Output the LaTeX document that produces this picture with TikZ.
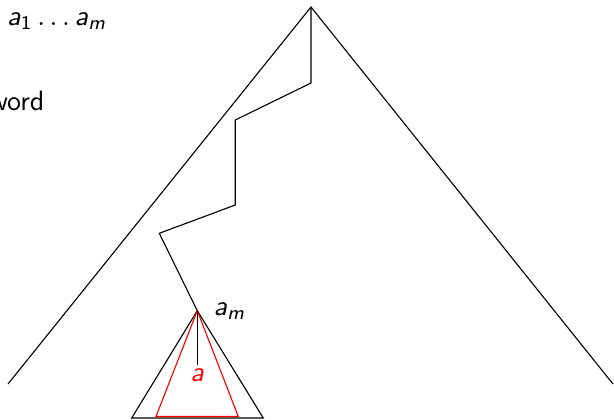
\documentclass[tikz,border=0pt]{standalone}
\usepackage{amsmath}
\renewcommand{\familydefault}{\sfdefault}
\newcommand{\mv}[1]{\textsf{\textit{#1}}}
\begin{document}
\begin{tikzpicture}[x=0.357pt,y=-0.357pt,
  lbl/.style={inner sep=0pt,font=\sffamily}]
\useasboundingbox (0,0) rectangle (614,420);
% big triangle
\coordinate (top) at (311,7);
\coordinate (bl) at (8,384);
\coordinate (br) at (613,384);
\draw (bl) -- (top) -- (br);
% path
\coordinate (p1) at (311,83);
\coordinate (p2) at (235.3,120);
\coordinate (p3) at (235.3,205);
\coordinate (p4) at (159.3,233.3);
\coordinate (am) at (197.3,310.7);
\draw (top) -- (p1) -- (p2) -- (p3) -- (p4) -- (am);
% small triangle
\coordinate (sl) at (131.7,418);
\coordinate (sr) at (263.3,418);
\draw (sl) -- (am) -- (sr) -- cycle;
% red triangle
\coordinate (rl) at (156,416.5);
\coordinate (rr) at (238.3,416.5);
\draw[red] (am) -- (rl) -- (rr) -- cycle;
% vertical line
\coordinate (vb) at (197.3,365);
\draw (am) -- (vb);
% labels
\node[lbl,anchor=base,text=red] (la) at (197.3,381) {$\mv{a}$};
\node[lbl,anchor=base west] (lam) at (213,315) {$\mv{a}_{\mv{m}}$};
\node[lbl,anchor=base west] (lword) at (6.5,25) {$\mv{a}_{\textsf{1}}\ldots\mv{a}_{\mv{m}}$};
\node[lbl,anchor=base east] (word) at (45,110) {word};
\end{tikzpicture}
\end{document}
